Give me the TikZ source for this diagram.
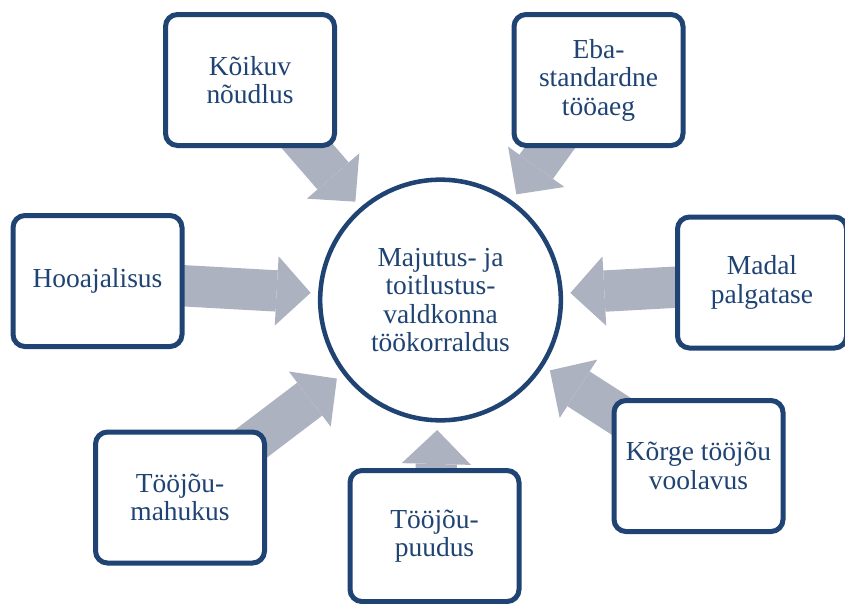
\documentclass[tikz,border=0pt]{standalone}
\usepackage{fontspec}
\setmainfont{Liberation Serif}
\usetikzlibrary{arrows.meta,backgrounds}

\definecolor{navy}{RGB}{31,67,115}
\definecolor{arrowgray}{RGB}{173,178,192}

\begin{document}
\begin{tikzpicture}[x=0.75pt,y=-0.75pt,
  box/.style={draw=navy, line width=3.75pt, rounded corners=9pt, fill=white,
    minimum width=126.75pt, minimum height=98.25pt, inner sep=0pt,
    align=center, text=navy, font=\fontsize{20.6}{21.4}\selectfont},
  hub/.style={circle, draw=navy, line width=3.4pt, fill=white,
    minimum size=180.5pt, inner sep=0pt,
    align=center, text=navy, font=\fontsize{20.6}{21.4}\selectfont},
  bigarrow/.style={draw=arrowgray, line width=31pt, shorten >=5.6pt,
    -{Triangle[length=25.5pt 0 0, width=52pt 0 0, line width=0pt]}}]

  \useasboundingbox (0,0) rectangle (845,603);

  % centre
  \node[hub] (korraldus) at (440.5,300) {Majutus- ja\\toitlustus-\\valdkonna\\töökorraldus};

  % factors
  \node[box] (noudlus)   at (250,80)    {Kõikuv\\nõudlus};
  \node[box] (tooaeg)    at (598.5,80)  {Eba-\\standardne\\tööaeg};
  \node[box] (hooaeg)    at (97.5,281)  {Hooajalisus};
  \node[box] (palk)      at (762,282.5) {Madal\\palgatase};
  \node[box] (mahukus)   at (180,497.5) {Tööjõu-\\mahukus};
  \node[box] (puudus)    at (434.5,536) {Tööjõu-\\puudus};
  \node[box] (voolavus)  at (698.5,466) {Kõrge tööjõu\\voolavus};

  \begin{pgfonlayer}{background}
    \draw[bigarrow] (noudlus.center)  -- (korraldus);
    \draw[bigarrow] (tooaeg.center)   -- (korraldus);
    \draw[bigarrow] (hooaeg.center)   -- (korraldus);
    \draw[bigarrow] (palk.center)     -- (korraldus);
    \draw[bigarrow] (mahukus.center)  -- (korraldus);
    \draw[bigarrow] (puudus.center)   -- (korraldus);
    \draw[bigarrow] (voolavus.center) -- (korraldus);
  \end{pgfonlayer}

\end{tikzpicture}
\end{document}
